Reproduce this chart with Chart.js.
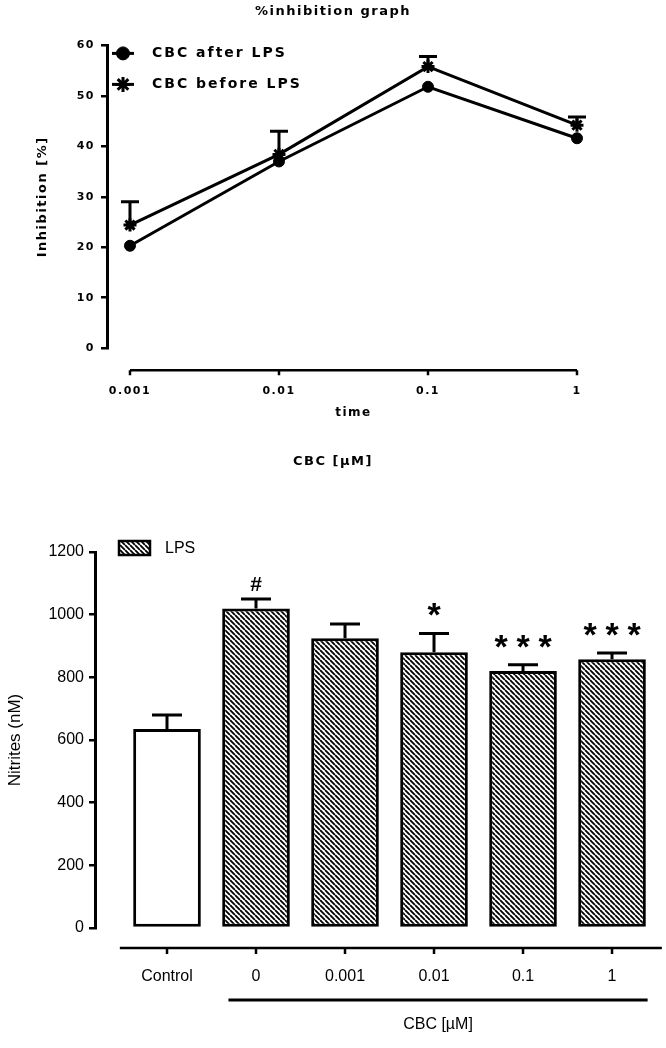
<!DOCTYPE html>
<html>
<head>
<meta charset="utf-8">
<script src="https://cdn.jsdelivr.net/npm/chart.js@4.4.1/dist/chart.umd.min.js"></script>
<style>
  body { margin: 0; background: #fff; }
  canvas { position: absolute; left: 0; }
  #inhib { top: 0; }
  #nitrites { top: 480px; }
</style>
</head>
<body>
<canvas id="inhib" width="666" height="480"></canvas>
<canvas id="nitrites" width="666" height="568"></canvas>
<script>
// top graph: % inhibition vs dose
const doses = [0.001, 0.01, 0.1, 1]
const doseLabels = ['0.001', '0.01', '0.1', '1']
const afterLps = [20.3, 37.0, 51.8, 41.6]
const beforeLps = [24.4, 38.4, 55.8, 44.2]
const beforeErr = [4.6, 4.6, 2.0, 1.6]
const inhibTicks = [0, 10, 20, 30, 40, 50, 60]

// bottom graph: nitrites
const groups = ['Control', '0', '0.001', '0.01', '0.1', '1']
const controlNitrites = [635]
const lpsNitrites = [1020, 925, 880, 820, 858]
const nitriteErr = [45, 30, 45, 60, 20, 20]
const signif = ['', '#', '', '*', '***', '***']
const nitriteTicks = [0, 200, 400, 600, 800, 1000, 1200]

const bold = (size) => ({ family: 'DejaVu Sans', size: size, weight: 'bold' })
const plain = (size) => ({ family: 'Liberation Sans', size: size })

// ---------- top chart ----------
const topExtras = {
  id: 'topExtras',
  beforeDraw(chart) {
    // the original uses a wide, spaced-out bold face
    chart.ctx.letterSpacing = '1.5px'
  },
  afterDatasetsDraw(chart) {
    const { ctx, chartArea, scales: { x, y } } = chart
    ctx.save()
    ctx.strokeStyle = '#000'
    ctx.fillStyle = '#000'
    ctx.lineWidth = 3
    // upward error bars of the "before" series
    doses.forEach((d, i) => {
      const px = x.getPixelForValue(d)
      const y0 = y.getPixelForValue(beforeLps[i])
      const y1 = y.getPixelForValue(beforeLps[i] + beforeErr[i])
      ctx.beginPath()
      ctx.moveTo(px, y0); ctx.lineTo(px, y1)
      ctx.moveTo(px - 9, y1); ctx.lineTo(px + 9, y1)
      ctx.stroke()
    })
    // detached x axis
    const ay = chartArea.bottom + 22
    ctx.lineWidth = 2.5
    ctx.beginPath()
    ctx.moveTo(x.getPixelForValue(doses[0]), ay)
    ctx.lineTo(x.getPixelForValue(doses[doses.length - 1]), ay)
    doses.forEach(d => {
      const px = x.getPixelForValue(d)
      ctx.moveTo(px, ay); ctx.lineTo(px, ay + 5)
    })
    ctx.stroke()
    // legend inside the plot
    chart.data.datasets.forEach((ds, i) => {
      const ly = chartArea.top + 8 + i * 31
      const lx = chartArea.left + 16
      ctx.lineWidth = ds.pointBorderWidth || 1
      Chart.helpers.drawPoint(ctx, { pointStyle: ds.pointStyle, radius: ds.pointRadius + 1, borderWidth: ds.pointBorderWidth || 1, rotation: 0 }, lx, ly)
      ctx.lineWidth = 3
      ctx.beginPath(); ctx.moveTo(lx - 11, ly); ctx.lineTo(lx + 11, ly); ctx.stroke()
      ctx.font = 'bold 14px "DejaVu Sans"'
      ctx.letterSpacing = '2px'
      ctx.textBaseline = 'middle'
      ctx.textAlign = 'left'
      ctx.fillText(ds.label, chartArea.left + 45, ly)
    })
    // chart title and the dose caption, centred on the page
    ctx.letterSpacing = '1.5px'
    ctx.textAlign = 'center'
    ctx.font = 'bold 13px "DejaVu Sans"'
    ctx.fillText('%inhibition graph', chart.width / 2, 12)
    ctx.fillText('CBC [µM]', chart.width / 2, 462)
    ctx.restore()
  }
}

new Chart(document.getElementById('inhib'), {
  type: 'line',
  data: {
    datasets: [
      {
        label: 'CBC after LPS',
        data: doses.map((d, i) => ({ x: d, y: afterLps[i] })),
        borderColor: '#000', backgroundColor: '#000', borderWidth: 3,
        pointStyle: 'circle', pointRadius: 5.5, pointBorderWidth: 1
      },
      {
        label: 'CBC before LPS',
        data: doses.map((d, i) => ({ x: d, y: beforeLps[i] })),
        borderColor: '#000', backgroundColor: '#000', borderWidth: 3,
        pointStyle: 'star', pointRadius: 6.5, pointBorderWidth: 3
      }
    ]
  },
  options: {
    responsive: false,
    animation: false,
    layout: { padding: { left: 0, right: 66, top: 45.4, bottom: 56.4 } },
    plugins: {
      legend: { display: false },
      tooltip: { enabled: false }
    },
    scales: {
      x: {
        type: 'logarithmic', min: 0.000701, max: 1.427, bounds: 'data',
        afterBuildTicks: s => { s.ticks = doses.map(v => ({ value: v })) },
        afterFit: s => { s.height = 75.4 },
        border: { display: false },
        grid: { display: false, drawTicks: false },
        ticks: { color: '#000', font: bold(11), padding: 36, autoSkip: false, maxRotation: 0, callback: (v, i) => doseLabels[i] },
        title: { display: true, text: 'time', color: '#000', font: bold(12), padding: { top: 0, bottom: 4 } }
      },
      y: {
        min: 0, max: 60,
        afterBuildTicks: s => { s.ticks = inhibTicks.map(v => ({ value: v })) },
        afterFit: s => { s.width = 107 },
        border: { display: true, color: '#000', width: 3 },
        grid: { drawOnChartArea: false, color: '#000', lineWidth: 2.5, tickLength: 6 },
        ticks: { color: '#000', font: bold(11), padding: 6 },
        title: { display: true, text: 'Inhibition [%]', color: '#000', font: bold(13), padding: { top: 35, bottom: 0 } }
      }
    }
  },
  plugins: [topExtras]
})

// ---------- bottom chart ----------
const hatch = (() => {
  const c = document.createElement('canvas')
  c.width = 5; c.height = 5
  const g = c.getContext('2d')
  g.fillStyle = '#fff'; g.fillRect(0, 0, 5, 5)
  g.strokeStyle = '#000'; g.lineWidth = 1.8
  g.beginPath()
  for (const o of [-5, 0, 5]) { g.moveTo(o, 0); g.lineTo(o + 5, 5) }
  g.stroke()
  return g.createPattern(c, 'repeat')
})()

const nitriteMeans = controlNitrites.concat(lpsNitrites)

const bottomExtras = {
  id: 'bottomExtras',
  afterDatasetsDraw(chart) {
    const { ctx, chartArea, scales: { x, y } } = chart
    ctx.save()
    ctx.strokeStyle = '#000'
    ctx.fillStyle = '#000'
    ctx.lineWidth = 3
    nitriteMeans.forEach((v, i) => {
      const px = x.getPixelForValue(i)
      const y0 = y.getPixelForValue(v)
      const y1 = y.getPixelForValue(v + nitriteErr[i])
      ctx.beginPath()
      ctx.moveTo(px, y0); ctx.lineTo(px, y1)
      ctx.moveTo(px - 15, y1); ctx.lineTo(px + 15, y1)
      ctx.stroke()
      // significance marks
      const m = signif[i]
      ctx.textAlign = 'center'; ctx.textBaseline = 'alphabetic'
      if (m === '#') {
        ctx.font = 'bold 21px "Liberation Sans"'
        ctx.fillText('#', px, y1 - 8)
      } else if (m) {
        ctx.font = 'bold 34px "Liberation Sans"'
        const n = m.length
        for (let k = 0; k < n; k++) ctx.fillText('*', px + (k - (n - 1) / 2) * 22, y1 - 7)
      }
    })
    // detached x axis with tick marks
    const ay = chartArea.bottom + 20
    ctx.lineWidth = 2.5
    ctx.beginPath()
    ctx.moveTo(x.getPixelForValue(-0.53), ay)
    ctx.lineTo(x.getPixelForValue(5.56), ay)
    groups.forEach((g, i) => {
      const px = x.getPixelForValue(i)
      ctx.moveTo(px, ay); ctx.lineTo(px, ay + 6)
    })
    ctx.stroke()
    // bracket under the CBC doses
    const by = chartArea.bottom + 72
    const bx0 = x.getPixelForValue(0.69), bx1 = x.getPixelForValue(5.4)
    ctx.lineWidth = 3
    ctx.beginPath(); ctx.moveTo(bx0, by); ctx.lineTo(bx1, by); ctx.stroke()
    ctx.font = '16px "Liberation Sans"'
    ctx.textAlign = 'center'; ctx.textBaseline = 'middle'
    ctx.fillText('CBC [µM]', (bx0 + bx1) / 2, chartArea.bottom + 97)
    // legend box
    const lx = chartArea.left + 24, ly = chartArea.top - 11
    ctx.fillStyle = hatch
    ctx.fillRect(lx, ly, 31, 14)
    ctx.lineWidth = 2.5
    ctx.strokeRect(lx, ly, 31, 14)
    ctx.fillStyle = '#000'
    ctx.textAlign = 'left'
    ctx.fillText(chart.data.datasets[1].label, lx + 46, ly + 8)
    ctx.restore()
  }
}

new Chart(document.getElementById('nitrites'), {
  type: 'bar',
  data: {
    datasets: [
      {
        label: 'Control',
        data: controlNitrites.map((v, i) => ({ x: i, y: v })),
        backgroundColor: '#fff', borderColor: '#000', borderWidth: 3, borderSkipped: false
      },
      {
        label: 'LPS',
        data: lpsNitrites.map((v, i) => ({ x: i + 1, y: v })),
        backgroundColor: hatch, borderColor: '#000', borderWidth: 3, borderSkipped: false
      }
    ]
  },
  options: {
    responsive: false,
    animation: false,
    datasets: { bar: { grouped: false, categoryPercentage: 1, barPercentage: 0.76 } },
    layout: { padding: { left: 0, right: 2, top: 72, bottom: 0 } },
    plugins: { legend: { display: false }, tooltip: { enabled: false } },
    scales: {
      x: {
        type: 'linear', min: -0.809, max: 5.584, offset: false,
        afterBuildTicks: s => { s.ticks = groups.map((g, i) => ({ value: i })) },
        afterFit: s => { s.height = 120 },
        border: { display: false },
        grid: { display: false, drawTicks: false, offset: false },
        ticks: { color: '#000', font: plain(16), padding: 39, autoSkip: false, maxRotation: 0, callback: (v, i) => groups[i] }
      },
      y: {
        min: 0, max: 1200,
        afterBuildTicks: s => { s.ticks = nitriteTicks.map(v => ({ value: v })) },
        afterFit: s => { s.width = 95 },
        border: { display: true, color: '#000', width: 3 },
        grid: { drawOnChartArea: false, color: '#000', lineWidth: 2.5, tickLength: 6 },
        ticks: { color: '#000', font: plain(16), padding: 5, callback: v => String(v) },
        title: { display: true, text: 'Nitrites (nM)', color: '#000', font: plain(17), padding: { top: 5, bottom: 0 } }
      }
    }
  },
  plugins: [bottomExtras]
})
</script>
</body>
</html>
